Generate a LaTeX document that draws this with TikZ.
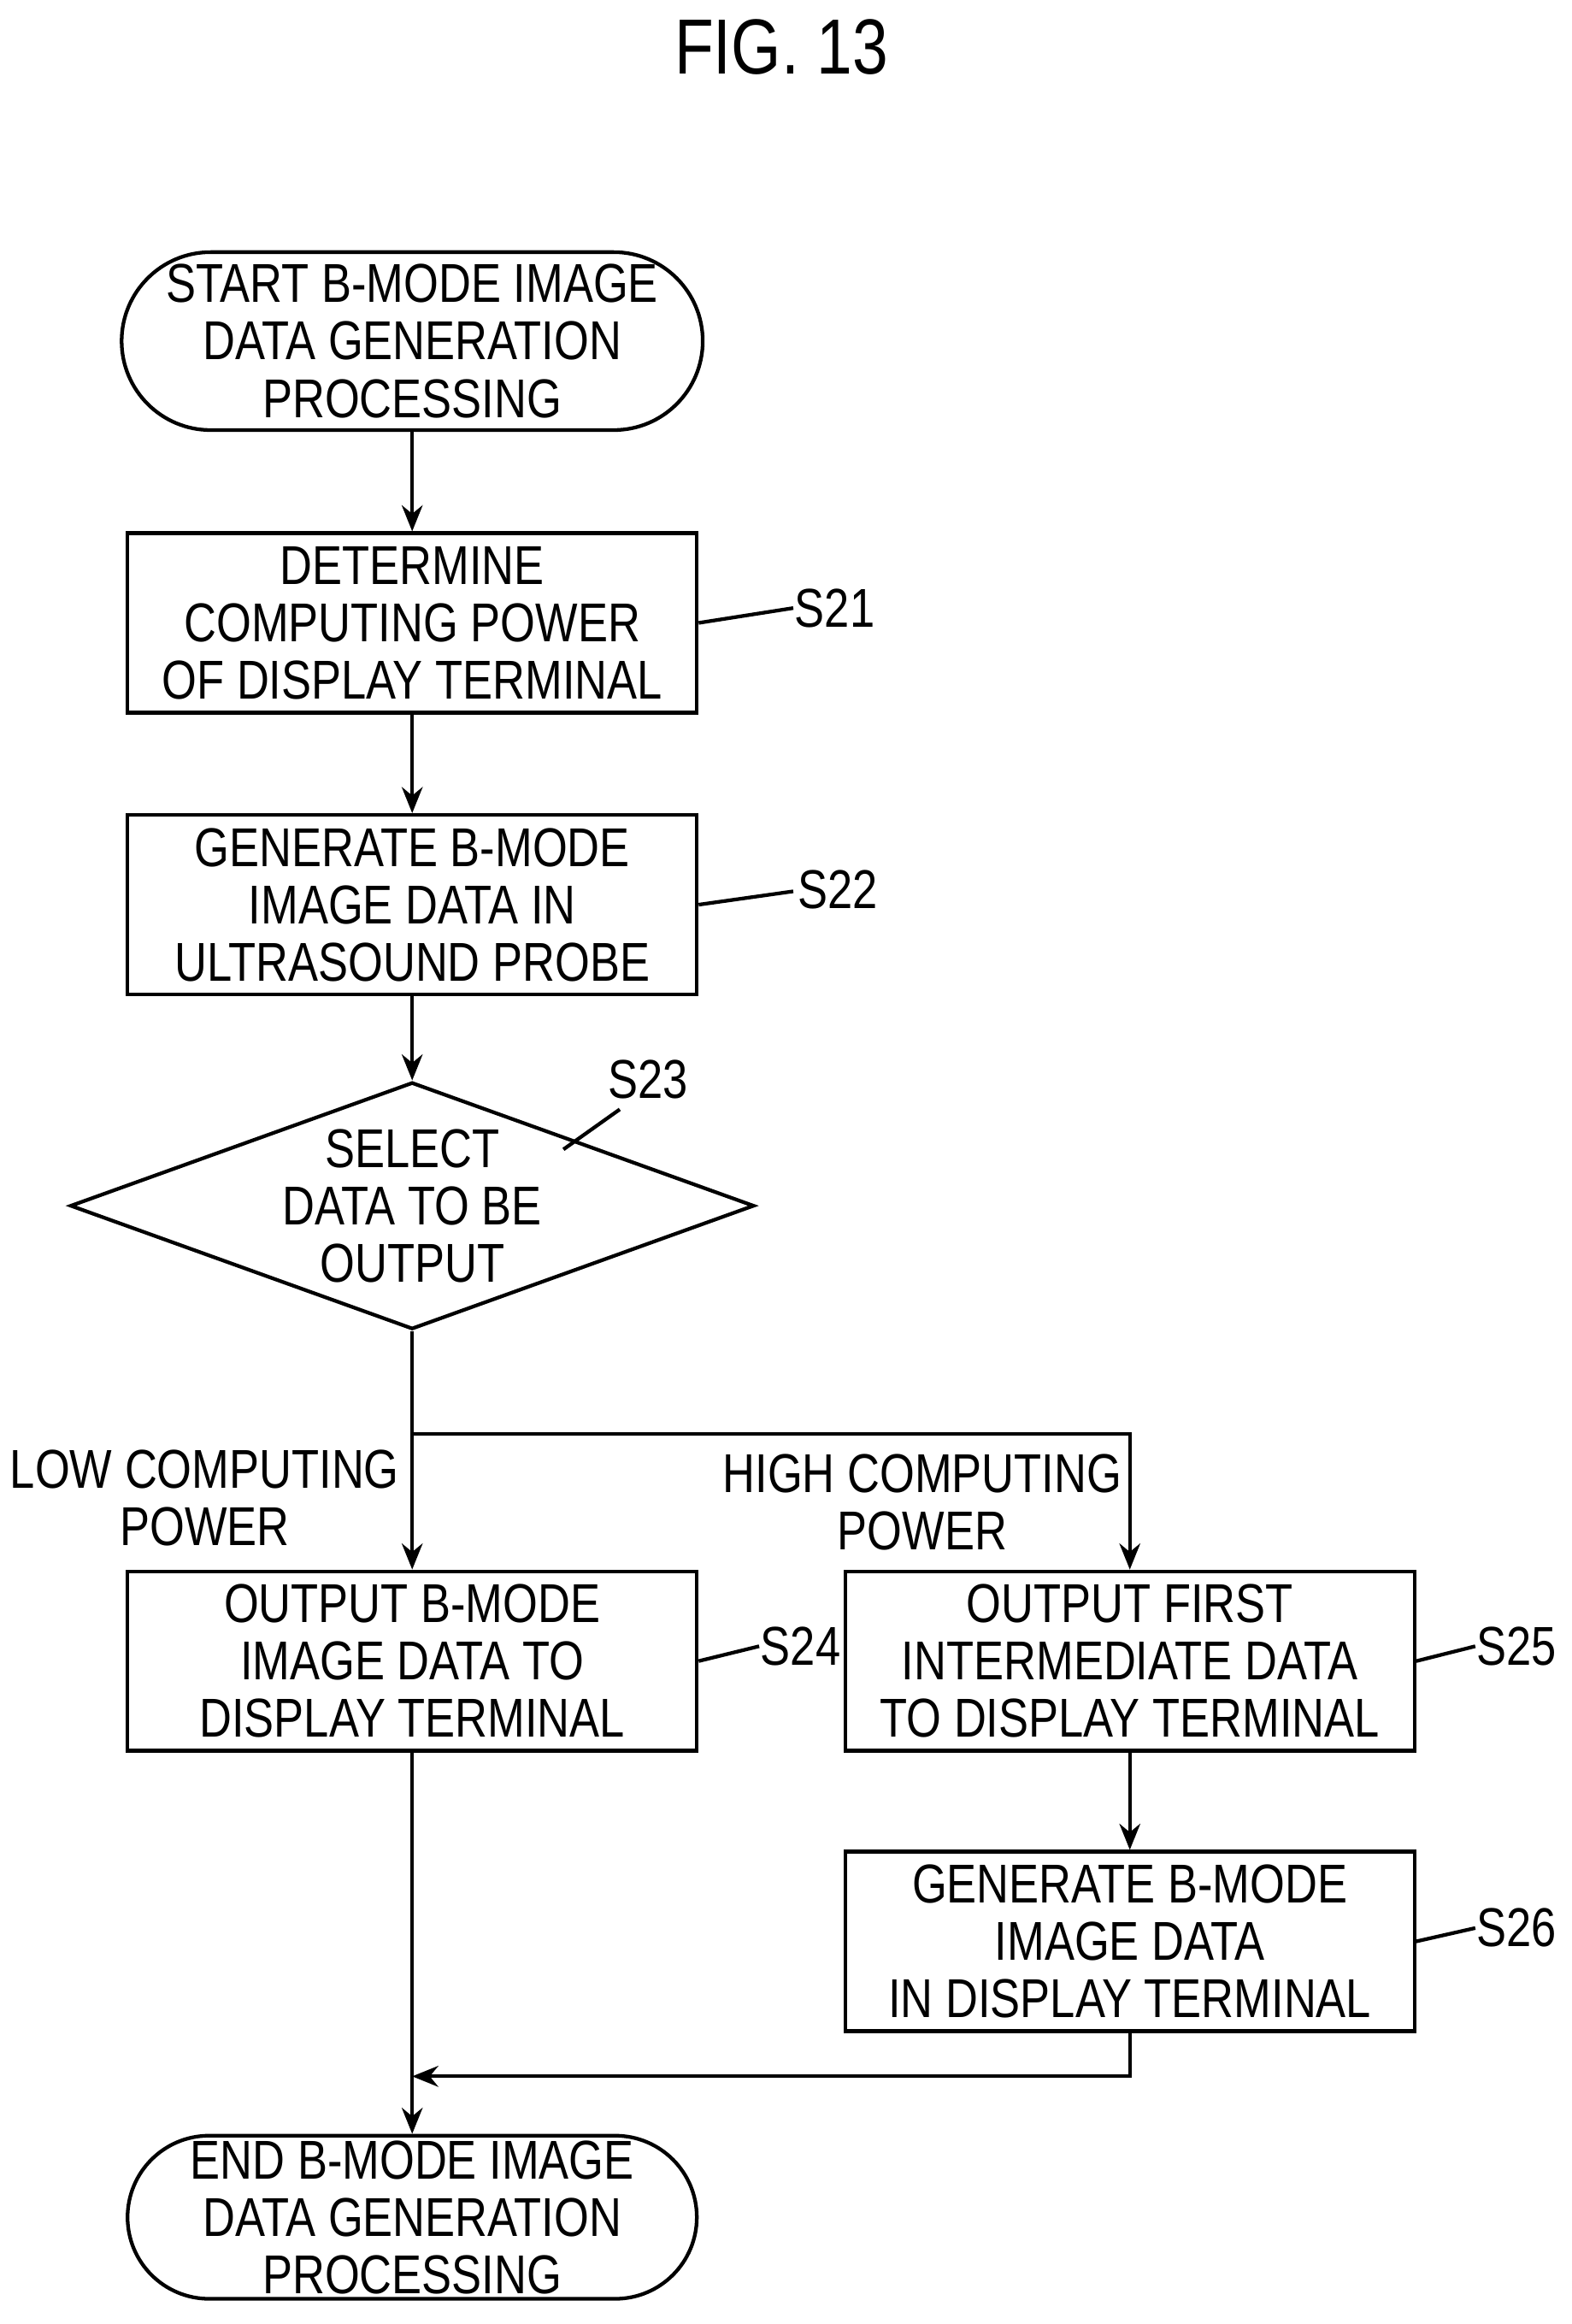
\documentclass[tikz,border=0pt]{standalone}
\usepackage{fontspec}
\setmainfont{Liberation Sans}[FakeStretch=0.82]
\usetikzlibrary{shapes.geometric,arrows.meta}
\begin{document}
\begin{tikzpicture}[x=0.02cm,y=-0.02cm,
  txt/.style={font=\fontsize{21}{22}\selectfont,align=center,inner sep=0pt},
  box/.style={draw,line width=1.4pt,minimum width=7.68cm,minimum height=2.42cm,txt},
  term/.style={draw,line width=1.4pt,rounded rectangle,txt},
  lab/.style={txt},
  ar/.style={line width=1.4pt,-{Stealth[length=10pt,width=8pt]}},
  ln/.style={line width=1.4pt}]
\usetikzlibrary{shapes.misc}
\useasboundingbox (0,0) rectangle (1060,1567);
\node[txt,font=\fontsize{30}{32}\selectfont] (title) at (527,32) {FIG. 13};
\node[draw,line width=1.4pt,rounded corners=60*0.02cm,minimum width=7.84cm,minimum height=2.4cm,txt] (start) at (278,230) {START B-MODE IMAGE\\DATA GENERATION\\PROCESSING};
\node[box] (s21) at (278,420) {DETERMINE\\COMPUTING POWER\\OF DISPLAY TERMINAL};
\node[box] (s22) at (278,610) {GENERATE B-MODE\\IMAGE DATA IN\\ULTRASOUND PROBE};
\node[draw,line width=1.4pt,diamond,aspect=2.77,minimum width=8.2cm,minimum height=2.96cm,txt,inner sep=0pt] (s23) at (278,813) {SELECT\\DATA TO BE\\OUTPUT};
\node[box] (s24) at (278,1120) {OUTPUT B-MODE\\IMAGE DATA TO\\DISPLAY TERMINAL};
\node[box] (s25) at (762,1120) {OUTPUT FIRST\\INTERMEDIATE DATA\\TO DISPLAY TERMINAL};
\node[box] (s26) at (762,1309) {GENERATE B-MODE\\IMAGE DATA\\IN DISPLAY TERMINAL};
\node[draw,line width=1.4pt,rounded corners=55*0.02cm,minimum width=7.68cm,minimum height=2.2cm,txt] (end) at (278,1495) {END B-MODE IMAGE\\DATA GENERATION\\PROCESSING};
\node[lab] (l21) at (563,410) {S21};
\node[lab] (l22) at (565,600) {S22};
\node[lab] (l23) at (437,728) {S23};
\node[lab] (l24) at (540,1110) {S24};
\node[lab] (l25) at (1023,1110) {S25};
\node[lab] (l26) at (1023,1300) {S26};
\node[lab] (low) at (138,1010) {LOW COMPUTING\\POWER};
\node[lab] (high) at (622,1013) {HIGH COMPUTING\\POWER};
\coordinate (c21) at (535,410);
\coordinate (c22) at (535,601);
\coordinate (c23a) at (380,775);
\coordinate (c23b) at (418,748);
\coordinate (c24) at (512,1110);
\coordinate (c25) at (995,1110);
\coordinate (c26) at (995,1300);
\coordinate (br) at (278,967);
\coordinate (brr) at (762,967);
\coordinate (mr) at (762,1400);
\coordinate (ml) at (278,1400);
\draw[ln] (s21.east) -- (c21);
\draw[ln] (s22.east) -- (c22);
\draw[ln] (c23a) -- (c23b);
\draw[ln] (s24.east) -- (c24);
\draw[ln] (s25.east) -- (c25);
\draw[ln] (s26.east) -- (c26);
\draw[ar] (start) -- (s21);
\draw[ar] (s21) -- (s22);
\draw[ar] (s22) -- (s23);
\draw[ar] (s23.south) -- (s24.north);
\draw[ar] (br) -- (brr) -- (s25.north);
\draw[ar] (s25) -- (s26);
\draw[ar] (s24) -- (end);
\draw[ar] (s26.south) -- (mr) -- (ml);
\end{tikzpicture}
\end{document}
